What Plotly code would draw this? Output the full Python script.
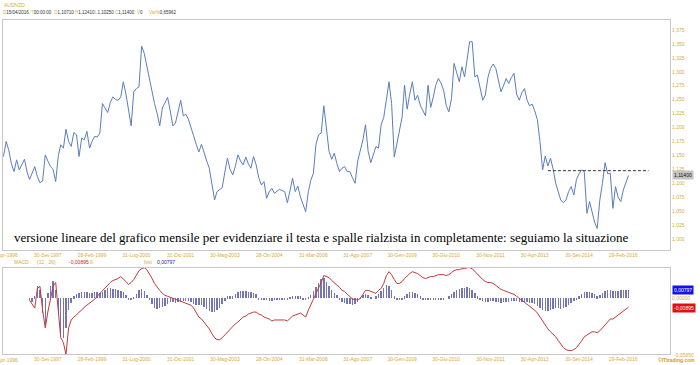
import plotly.graph_objects as go
import pandas as pd

# ---------------- data ----------------
START_MONTH = "1996-04-30"
price = [
 1.148, 1.175, 1.160, 1.135, 1.121, 1.142, 1.124, 1.135, 1.143, 1.120,
 1.107, 1.118, 1.130, 1.112, 1.101, 1.104, 1.151, 1.140, 1.130, 1.125,
 1.103, 1.150, 1.169, 1.163, 1.197, 1.175, 1.166, 1.191, 1.187, 1.148,
 1.181, 1.178, 1.193, 1.163, 1.175, 1.184, 1.183, 1.190, 1.243, 1.235,
 1.227, 1.245, 1.255, 1.250, 1.249, 1.255, 1.282, 1.260, 1.230, 1.203,
 1.264, 1.270, 1.273, 1.346, 1.333, 1.310, 1.285, 1.265, 1.243, 1.225,
 1.203, 1.235, 1.245, 1.254, 1.230, 1.203, 1.208, 1.230, 1.249, 1.221,
 1.224, 1.215, 1.202, 1.185, 1.170, 1.156, 1.170, 1.154, 1.140, 1.127,
 1.100, 1.070, 1.085, 1.088, 1.092, 1.120, 1.145, 1.125, 1.115, 1.130,
 1.151, 1.140, 1.133, 1.147, 1.135, 1.127, 1.148, 1.133, 1.110, 1.097,
 1.103, 1.073, 1.085, 1.091, 1.082, 1.086, 1.089, 1.087, 1.085, 1.065,
 1.090, 1.109, 1.085, 1.095, 1.075, 1.060, 1.049, 1.085, 1.105, 1.118,
 1.170, 1.187, 1.190, 1.239, 1.200, 1.157, 1.143, 1.154, 1.135, 1.121,
 1.127, 1.130, 1.121, 1.121, 1.110, 1.100, 1.140, 1.160, 1.178, 1.205,
 1.157, 1.137, 1.150, 1.166, 1.163, 1.205, 1.218, 1.250, 1.282, 1.243,
 1.147, 1.170, 1.196, 1.219, 1.276, 1.233, 1.260, 1.282, 1.249, 1.258,
 1.240, 1.230, 1.221, 1.276, 1.236, 1.255, 1.276, 1.288, 1.280, 1.267,
 1.240, 1.228, 1.252, 1.315, 1.300, 1.282, 1.309, 1.291, 1.320, 1.354,
 1.354, 1.291, 1.294, 1.270, 1.249, 1.258, 1.290, 1.306, 1.314, 1.306,
 1.285, 1.264, 1.275, 1.288, 1.279, 1.290, 1.297, 1.260, 1.249, 1.262,
 1.270, 1.249, 1.239, 1.242, 1.230, 1.214, 1.175, 1.124, 1.149, 1.131,
 1.145, 1.126, 1.100, 1.083, 1.070, 1.065, 1.070, 1.085, 1.094, 1.079,
 1.107, 1.117, 1.124, 1.121, 1.046, 1.067, 1.050, 1.030, 1.019, 1.070,
 1.100, 1.137, 1.117, 1.118, 1.055, 1.094, 1.075, 1.067, 1.088, 1.103,
 1.114]

MACD_START = 10  # first month index with MACD values
macd = [
 -0.002, -0.006, -0.010, 0.010, 0.012, -0.012, -0.030, -0.014, 0.000, 0.012,
 0.016, -0.010, -0.040, -0.045, -0.057, -0.030, -0.022, -0.019, -0.017, -0.014,
 -0.012, -0.009, -0.007, -0.005, -0.003, -0.001, 0.002, 0.005, 0.008, 0.010,
 0.013, 0.016, 0.018, 0.019, 0.020, 0.022, 0.020, 0.017, 0.014, 0.016,
 0.019, 0.024, 0.028, 0.030, 0.031, 0.029, 0.025, 0.020, 0.015, 0.011,
 0.008, 0.005, 0.003, 0.002, 0.001, 0.000, -0.001, -0.002, -0.003, -0.004,
 -0.005, -0.006, -0.007, -0.010, -0.015, -0.019, -0.021, -0.024, -0.027, -0.031,
 -0.036, -0.040, -0.042, -0.042, -0.040, -0.037, -0.034, -0.031, -0.029, -0.026,
 -0.024, -0.022, -0.019, -0.018, -0.016, -0.015, -0.014, -0.014, -0.016, -0.017,
 -0.019, -0.020, -0.021, -0.023, -0.022, -0.022, -0.022, -0.022, -0.022, -0.023,
 -0.020, -0.018, -0.017, -0.016, -0.015, -0.017, -0.019, -0.012, -0.006, -0.001,
 0.005, 0.010, 0.016, 0.023, 0.022, 0.021, 0.018, 0.016, 0.014, 0.011,
 0.008, 0.007, 0.004, 0.002, -0.001, -0.001, -0.002, 0.000, 0.004, 0.008,
 0.008, 0.007, 0.006, 0.005, 0.008, 0.010, 0.015, 0.023, 0.027, 0.024,
 0.019, 0.015, 0.015, 0.017, 0.020, 0.023, 0.025, 0.027, 0.026, 0.025,
 0.023, 0.021, 0.020, 0.021, 0.022, 0.022, 0.023, 0.024, 0.024, 0.024,
 0.023, 0.024, 0.026, 0.028, 0.029, 0.029, 0.030, 0.030, 0.031, 0.031,
 0.030, 0.027, 0.024, 0.021, 0.019, 0.017, 0.016, 0.016, 0.015, 0.013,
 0.011, 0.009, 0.008, 0.007, 0.006, 0.005, 0.004, 0.002, 0.000, -0.002,
 -0.004, -0.006, -0.008, -0.010, -0.012, -0.015, -0.019, -0.024, -0.028, -0.031,
 -0.034, -0.036, -0.039, -0.043, -0.047, -0.050, -0.052, -0.053, -0.053, -0.052,
 -0.050, -0.047, -0.043, -0.039, -0.037, -0.035, -0.034, -0.034, -0.035, -0.033,
 -0.030, -0.026, -0.023, -0.021, -0.021, -0.019, -0.017, -0.015, -0.013, -0.011,
 -0.009]

hist = [
 -0.002, -0.004, 0.002, 0.012, 0.008, -0.015, -0.028, 0.005, 0.012, 0.018,
 0.008, -0.015, -0.035, -0.040, -0.030, -0.012, -0.005, 0.002, 0.004, 0.005,
 0.006, 0.006, 0.006, 0.005, 0.005, 0.006, 0.006, 0.005, 0.006, 0.008,
 0.010, 0.010, 0.009, 0.009, 0.008, 0.007, 0.006, 0.003, -0.002, -0.001,
 0.001, 0.004, 0.008, 0.009, 0.007, 0.003, -0.002, -0.006, -0.010, -0.011,
 -0.010, -0.009, -0.008, -0.006, -0.004, -0.004, -0.005, -0.004, -0.004, -0.003,
 -0.003, -0.003, -0.004, -0.006, -0.007, -0.007, -0.007, -0.009, -0.011, -0.013,
 -0.014, -0.014, -0.012, -0.010, -0.006, -0.003, 0.002, 0.002, 0.002, 0.004,
 0.006, 0.007, 0.007, 0.007, 0.006, 0.006, 0.005, 0.004, -0.001, -0.001,
 -0.001, -0.002, -0.003, -0.003, -0.002, -0.002, -0.002, -0.002, -0.002, -0.002,
 0.001, 0.002, 0.002, 0.002, 0.002, -0.001, -0.002, 0.001, 0.003, 0.007,
 0.011, 0.016, 0.020, 0.021, 0.017, 0.012, 0.008, 0.005, 0.003, -0.002,
 -0.004, -0.005, -0.006, -0.006, -0.007, -0.006, -0.004, 0.001, 0.003, 0.004,
 0.003, 0.001, 0.000, 0.002, 0.004, 0.007, 0.010, 0.013, 0.012, 0.008,
 0.002, -0.002, -0.002, -0.001, 0.002, 0.004, 0.006, 0.006, 0.005, 0.004,
 0.002, -0.001, -0.002, -0.002, -0.002, -0.001, -0.001, -0.001, -0.001, -0.001,
 0.000, 0.002, 0.004, 0.006, 0.008, 0.009, 0.010, 0.010, 0.011, 0.010,
 0.008, 0.005, 0.002, -0.001, -0.003, -0.004, -0.004, -0.003, -0.003, -0.004,
 -0.004, -0.005, -0.004, -0.004, -0.004, -0.003, -0.003, -0.003, -0.004, -0.004,
 -0.004, -0.004, -0.005, -0.005, -0.006, -0.008, -0.010, -0.012, -0.013, -0.013,
 -0.012, -0.011, -0.010, -0.010, -0.011, -0.010, -0.009, -0.007, -0.005, -0.003,
 -0.001, 0.002, 0.004, 0.006, 0.006, 0.006, 0.005, 0.004, 0.002, 0.003,
 0.005, 0.007, 0.008, 0.008, 0.007, 0.007, 0.007, 0.008, 0.008, 0.008,
 0.008]

tick_dates = ["1996-04-30", "1997-09-30", "1999-02-28", "2000-07-31", "2001-12-31",
              "2003-05-31", "2004-10-31", "2006-03-31", "2007-08-31", "2009-01-31",
              "2010-06-30", "2011-11-30", "2013-04-30", "2014-09-30", "2016-02-29"]
tick_labels = ["30-Apr-1996", "30-Set-1997", "28-Feb-1999", "31-Lug-2000", "31-Dic-2001",
               "30-Mag-2003", "28-Ott-2004", "31-Mar-2006", "31-Ago-2007", "30-Gen-2009",
               "30-Giu-2010", "30-Nov-2011", "30-Apr-2013", "30-Set-2014", "29-Feb-2016"]
price_ticks = [1.000, 1.025, 1.050, 1.075, 1.100, 1.125, 1.150, 1.175, 1.200,
               1.225, 1.250, 1.275, 1.300, 1.325, 1.350, 1.375]

neckline_level = 1.1226
neckline_start, neckline_end = "2013-10-01", "2016-12-20"
last_close = 1.11400
macd_last, hist_last = -0.00895, 0.00797
macd_top = 0.03072

note = ("versione lineare del grafico mensile per evidenziare il testa e spalle "
        "rialzista in completamente: seguiamo la situazione")

try:
    dates = pd.date_range(START_MONTH, periods=len(price), freq="ME")
except Exception:
    dates = pd.date_range(START_MONTH, periods=len(price), freq="M")
mdates = dates[MACD_START:MACD_START + len(macd)]

# ---------------- figure ----------------
W, H = 700, 365
GOLD = "#d9aa3a"
LAB = dict(family="Arial, Liberation Sans, sans-serif", size=5, color=GOLD)

def py(p):  # pixel y -> paper y
    return 1 - p / H

x_range = ["1996-04-24", "2017-08-28"]

fig = go.Figure()
fig.add_trace(go.Scatter(x=dates, y=price, mode="lines",
                         line=dict(color="#5b7dbd", width=1), xaxis="x", yaxis="y"))
fig.add_trace(go.Bar(x=mdates, y=hist, marker=dict(color="#7474b8", line=dict(width=0)),
                     width=0.42e9, xaxis="x2", yaxis="y2"))
fig.add_trace(go.Scatter(x=mdates, y=macd, mode="lines",
                         line=dict(color="#c0393b", width=1), xaxis="x2", yaxis="y2"))

fig.add_shape(type="line", xref="x", yref="y", x0=neckline_start, x1=neckline_end,
              y0=neckline_level, y1=neckline_level,
              line=dict(color="#333333", width=1, dash="3px,2px"))

axis_common = dict(showgrid=False, zeroline=False, ticks="", showline=True,
                   linecolor="#c8c8c8", linewidth=1, mirror=True)

fig.update_layout(
    width=W, height=H, margin=dict(l=0, r=0, t=0, b=0),
    paper_bgcolor="white", plot_bgcolor="white", showlegend=False, bargap=0,
    xaxis=dict(domain=[3 / W, 670 / W], type="date", range=x_range,
               tickvals=tick_dates[1:], ticktext=tick_labels[1:], tickfont=LAB,
               automargin=False, anchor="y", **axis_common),
    yaxis=dict(domain=[py(250), py(20)], range=[0.9803, 1.3929], side="right",
               tickvals=price_ticks,
               ticktext=[f"{v:.3f}".replace(".", ",") for v in price_ticks],
               tickfont=LAB, automargin=False, anchor="x", **axis_common),
    xaxis2=dict(domain=[3 / W, 670 / W], type="date", range=x_range,
                tickvals=tick_dates[1:], ticktext=tick_labels[1:], tickfont=LAB,
                automargin=False, anchor="y2", **axis_common),
    yaxis2=dict(domain=[py(354), py(268)], range=[-0.0565, 0.0307], side="right",
                tickvals=[0.0, macd_top], ticktext=["0,00000", "0,03072"],
                tickfont=LAB, automargin=False, anchor="x2", **axis_common),
)

ann = []
def txt(x, y, s, color=GOLD, size=5, xanchor="left", bg=None, family=None, bold=False):
    d = dict(xref="paper", yref="paper", x=x / W, y=py(y), text=(f"<b>{s}</b>" if bold else s),
             showarrow=False, xanchor=xanchor, yanchor="middle",
             font=dict(family=family or LAB["family"], size=size, color=color))
    if bg:
        d.update(bgcolor=bg, borderpad=1)
    ann.append(d)

# first (partly cut) date label under each panel
ann.append(dict(xref="x", yref="paper", x=tick_dates[0], y=py(255), text=tick_labels[0],
                showarrow=False, xanchor="center", yanchor="middle", font=LAB))
ann.append(dict(xref="x2", yref="paper", x=tick_dates[0], y=py(360), text=tick_labels[0],
                showarrow=False, xanchor="center", yanchor="middle", font=LAB))

# header
txt(2, 5, "AUDNZD")
hdr = [("D", "15/04/2016", 1), ("T", "00:00:00", 29), ("O", "1,10710", 52),
       ("H", "1,12410", 73), ("L", "1,10250", 93), ("C", "1,11400", 113),
       ("V", "0", 135), ("Var%", "0,65962", 147)]
for k, v, x in hdr:
    txt(x, 13, f"<span style='color:{GOLD}'>{k}</span>{v}", color="#333333", size=4.5)

# MACD header
txt(12, 262, "MACD")
txt(35, 262, "(12 , 26)")
txt(67, 262, f"{macd_last:.5f}".replace(".", ","), color="#cc2222")
txt(88, 262, "9")
txt(142, 262, "hist")
txt(155, 262, f"{hist_last:.5f}".replace(".", ","), color="#2222aa")

# value boxes on right axis
txt(672, 175, f"{last_close:.5f}".replace(".", ","), color="#111111", bg="#c4c4c4")
txt(672, 290, f"{hist_last:.5f}".replace(".", ","), color="white", bg="#1010f0")
txt(672, 308, f"{macd_last:.5f}".replace(".", ","), color="white", bg="#e01010")
txt(672, 355, "-0,05650")
txt(697, 360, "©ITtrading.com", color="#d09a20", xanchor="right", bold=True)

# comment text
txt(321, 237, note, color="#000000", size=13, xanchor="center",
    family="Liberation Serif, Times New Roman, serif")

fig.update_layout(annotations=ann)
fig.write_html("out.html")
